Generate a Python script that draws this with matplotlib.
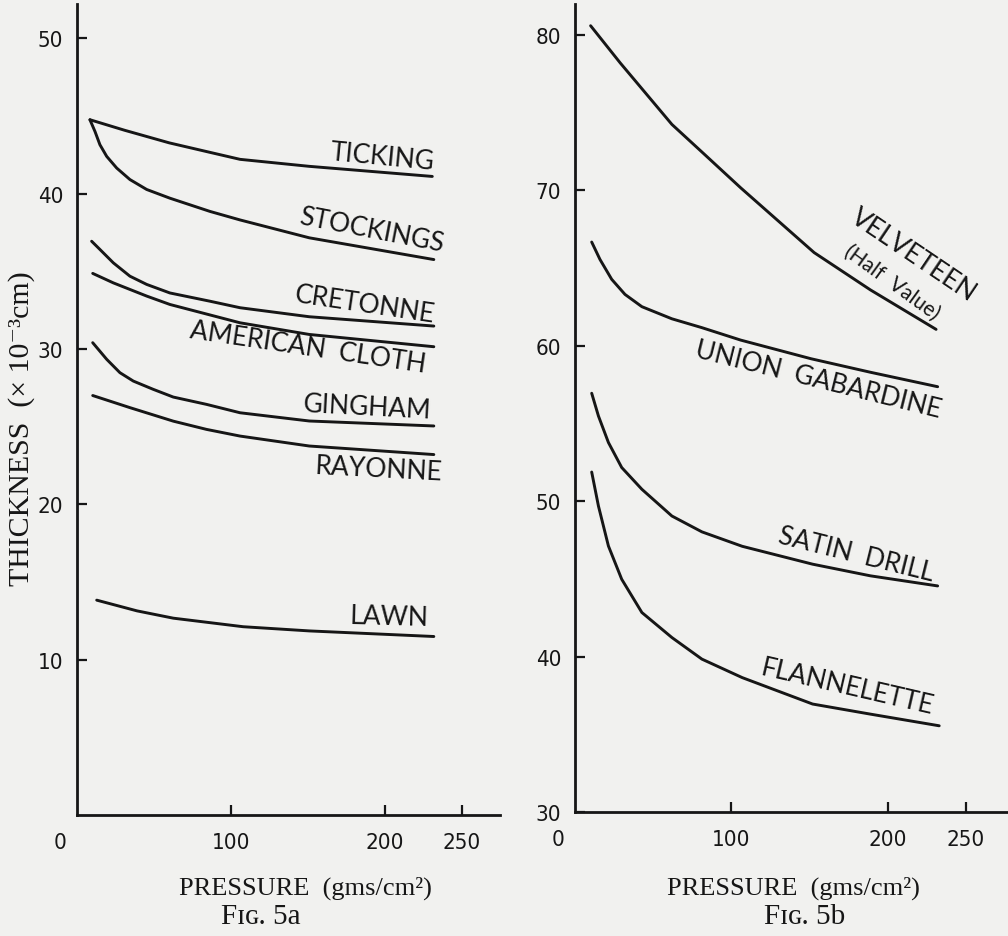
import matplotlib
matplotlib.use('Agg')
import matplotlib.pyplot as plt

# Fig. 5a -- thickness (x 10^-3 cm) vs pressure (gms/cm2)
ticking_p = [8.4, 31, 60, 86, 106, 151, 231]
ticking_t = [44.75, 44.07, 43.26, 42.66, 42.2, 41.75, 41.1]
stockings_p = [8.4, 11.7, 14.9, 19.3, 25.8, 34.4, 45.3, 60.4, 86.4, 106, 151, 232]
stockings_t = [44.75, 43.99, 43.14, 42.39, 41.64, 40.9, 40.26, 39.7, 38.85,
               38.3, 37.15, 35.75]
cretonne_p = [9.5, 14.9, 23.6, 34.4, 45.3, 60.4, 86.4, 106, 151, 232]
cretonne_t = [36.93, 36.4, 35.54, 34.68, 34.15, 33.6, 33.07, 32.65, 32.07, 31.47]
american_p = [10.2, 23.6, 45.3, 60.4, 106, 151, 232]
american_t = [34.86, 34.25, 33.4, 32.86, 31.68, 30.93, 30.14]
gingham_p = [10.2, 19.3, 27.9, 36.6, 49.5, 62.6, 84.2, 106, 151, 232]
gingham_t = [30.4, 29.33, 28.47, 27.93, 27.4, 26.9, 26.43, 25.89, 25.36, 25.04]
rayonne_p = [10.2, 34.4, 62.6, 84.2, 106, 151, 232]
rayonne_t = [27.0, 26.22, 25.35, 24.82, 24.39, 23.75, 23.2]
lawn_p = [12.8, 39, 62.6, 108, 151, 232]
lawn_t = [13.83, 13.14, 12.67, 12.12, 11.85, 11.49]

# Fig. 5b
velveteen_p = [10, 29, 62, 82, 106, 153, 189, 231]
velveteen_t = [80.6, 78.2, 74.25, 72.4, 70.17, 66.0, 63.6, 61.06]
union_p = [10.7, 16, 23.5, 32, 42.8, 62, 81.2, 106, 151, 189, 232]
union_t = [66.68, 65.56, 64.28, 63.31, 62.52, 61.74, 61.17, 60.37, 59.17,
           58.3, 57.37]
satin_p = [10.7, 15, 21.4, 29.9, 42.8, 62, 81.2, 107, 152, 189, 232]
satin_t = [56.95, 55.49, 53.78, 52.17, 50.77, 49.05, 48.03, 47.1, 45.95,
           45.2, 44.55]
flannel_p = [10.7, 15, 21.4, 29.9, 42.8, 62, 81.2, 107, 152, 189, 233]
flannel_t = [51.88, 49.7, 47.12, 44.98, 42.84, 41.23, 39.84, 38.65, 36.95,
             36.3, 35.55]

x_ticks = [100, 200, 250]
left_yticks = [10, 20, 30, 40, 50]
right_yticks = [30, 40, 50, 60, 70, 80]

INK = '#161616'
PAPER = '#f1f1ef'
LABELFONT = ['Lato', 'DejaVu Sans']
SERIF = ['Liberation Serif', 'DejaVu Serif']
tickfont = dict(family='DejaVu Sans', stretch='condensed', size=16)

fig = plt.figure(figsize=(10.08, 9.37), dpi=100, facecolor=PAPER)
ax1 = fig.add_axes([0.0764, 0.1291, 0.4196, 0.8656])
ax2 = fig.add_axes([0.5704, 0.1323, 0.4296, 0.8624])


def style(ax, ylim, yticks, xmax):
    ax.set_facecolor(PAPER)
    for s in ('top', 'right'):
        ax.spines[s].set_visible(False)
    for s in ('left', 'bottom'):
        ax.spines[s].set_linewidth(2.0)
        ax.spines[s].set_color(INK)
    ax.set_xlim(0, xmax)
    ax.set_ylim(*ylim)
    ax.set_xticks(x_ticks)
    ax.set_yticks(yticks)
    ax.set_xticklabels([str(v) for v in x_ticks], fontdict=tickfont)
    ax.set_yticklabels([str(v) for v in yticks], fontdict=tickfont)
    ax.tick_params(direction='in', length=7, width=1.6, color=INK,
                   labelcolor=INK)
    ax.tick_params(axis='x', pad=12)
    ax.tick_params(axis='y', pad=10)
    ax.annotate('0', xy=(0, 0), xycoords=('data', 'axes fraction'),
                xytext=(-12, -12), textcoords='offset points',
                ha='center', va='top', color=INK, **tickfont)
    ax.set_xlabel('PRESSURE  (gms/cm²)', family=SERIF, fontsize=19,
                  color=INK)


style(ax1, (0, 52.2), left_yticks, 275)
style(ax2, (30, 82.0), right_yticks, 277)
ax1.xaxis.set_label_coords(0.54, -0.075)
ax2.xaxis.set_label_coords(0.505, -0.079)

ax1.set_ylabel('THICKNESS  (× 10⁻³cm)', family=SERIF, fontsize=21.5, color=INK)
ax1.yaxis.set_label_coords(-0.1, 0.478)

kw = dict(color=INK, lw=2.1, solid_capstyle='round', solid_joinstyle='round')
for p, t in [(ticking_p, ticking_t), (stockings_p, stockings_t),
             (cretonne_p, cretonne_t), (american_p, american_t),
             (gingham_p, gingham_t), (rayonne_p, rayonne_t), (lawn_p, lawn_t)]:
    ax1.plot(p, t, **kw)
for p, t in [(velveteen_p, velveteen_t), (union_p, union_t),
             (satin_p, satin_t), (flannel_p, flannel_t)]:
    ax2.plot(p, t, **kw)

lab = dict(family=LABELFONT, fontsize=19, color=INK, ha='center', va='center',
           rotation_mode='anchor')
ax1.text(198.7, 42.4, 'TICKING', rotation=-5.5, **lab)
ax1.text(191.6, 37.7, 'STOCKINGS', rotation=-11, **lab)
ax1.text(187, 32.86, 'CRETONNE', rotation=-8.5, **lab)
ax1.text(150, 30.1, 'AMERICAN  CLOTH', rotation=-8.4, **lab)
ax1.text(188.3, 26.3, 'GINGHAM', rotation=-3, **lab)
ax1.text(196, 22.3, 'RAYONNE', rotation=-3, **lab)
ax1.text(203, 12.8, 'LAWN', rotation=-1.5, **lab)

ax2.text(216.7, 65.9, 'VELVETEEN', rotation=-34, **lab)
ax2.text(203, 64.1, '(Half  Value)', rotation=-36,
         **{**lab, 'fontsize': 15})
ax2.text(155.8, 57.85, 'UNION  GABARDINE', rotation=-14, **lab)
ax2.text(179.5, 46.6, 'SATIN  DRILL', rotation=-14, **lab)
ax2.text(174.4, 38.1, 'FLANNELETTE', rotation=-13, **lab)

fig.text(261 / 1008, 1 - 917 / 937, 'Fɪɢ. 5a', family=SERIF, fontsize=21,
         color=INK, ha='center', va='center')
fig.text(805 / 1008, 1 - 917 / 937, 'Fɪɢ. 5b', family=SERIF, fontsize=21,
         color=INK, ha='center', va='center')

plt.savefig('out.png', dpi=100, facecolor=PAPER)
plt.close()
